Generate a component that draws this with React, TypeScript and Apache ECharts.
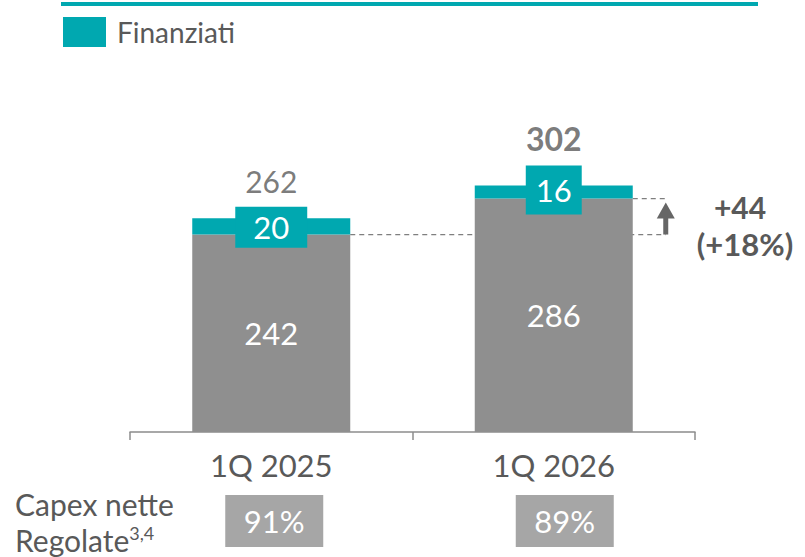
import React, { useEffect, useRef } from "react";
import * as echarts from "echarts";

const categories = ["1Q 2025", "1Q 2026"];
const baseValues = [242, 286];
const financedValues = [20, 16];
const totals = [262, 302];
const regulatedShare = ["91%", "89%"];
const bottomLabelLines = ["Capex nette", "Regolate"];
const bottomLabelSup = "3,4";

const TEAL = "#00A8B0";
const GRAY_BAR = "#8F8F8F";
const TEXT = "#595959";
const BOX_GRAY = "#A6A6A6";
const ARROW = "#666666";
const FONT = "Lato, 'Open Sans', sans-serif";
const BAR_WIDTH = 158;

export default function App() {
  const ref = useRef<HTMLDivElement>(null);

  useEffect(() => {
    if (!ref.current) return;
    const chart = echarts.init(ref.current, undefined, { renderer: "svg" });

    chart.setOption({
      animation: false,
      textStyle: { fontFamily: FONT },
      legend: {
        data: ["Finanziati"],
        left: 63,
        top: 17,
        padding: 0,
        icon: "rect",
        itemWidth: 43,
        itemHeight: 30,
        selectedMode: false,
        textStyle: { fontSize: 28, color: TEXT, fontFamily: FONT, padding: [0, 0, 0, 6] },
      },
      grid: { left: 130, right: 110, top: 105.6, bottom: 125 },
      xAxis: {
        type: "category",
        data: categories,
        axisLine: { lineStyle: { color: "#8C8C8C", width: 1.5 } },
        axisTick: { show: true, length: 8, lineStyle: { color: "#8C8C8C", width: 1.5 } },
        axisLabel: { fontSize: 31, color: TEXT, fontFamily: FONT, margin: 17 },
      },
      yAxis: { type: "value", min: 0, max: 400, show: false, splitLine: { show: false } },
      series: [
        {
          name: "Base",
          type: "bar",
          stack: "t",
          barWidth: BAR_WIDTH,
          data: baseValues,
          itemStyle: { color: GRAY_BAR },
          label: { show: true, position: "inside", color: "#fff", fontSize: 31, fontFamily: FONT },
        },
        {
          name: "Finanziati",
          type: "bar",
          stack: "t",
          barWidth: BAR_WIDTH,
          data: financedValues.map((v, i) => ({
            value: v,
            label: {
              padding: i === 0 ? [4, 18, 4, 18] : [8, 10, 8, 10],
              offset: i === 0 ? [0, 1] : [0, -2],
            },
          })),
          itemStyle: { color: TEAL },
          label: {
            show: true,
            position: "inside",
            color: "#fff",
            fontSize: 31,
            lineHeight: 33,
            fontFamily: FONT,
            backgroundColor: TEAL,
          },
        },
        {
          name: "Totale",
          type: "scatter",
          symbolSize: 1,
          itemStyle: { color: "rgba(0,0,0,0)" },
          data: totals.map((v, i) => ({
            value: v,
            label: {
              fontWeight: i === 1 ? "bold" : "normal",
              fontSize: i === 1 ? 32 : 30,
              distance: i === 1 ? 31 : 22,
            },
          })),
          label: { show: true, position: "top", color: TEXT, fontFamily: FONT },
        },
      ],
    });

    const px = (i: number, v: number) =>
      chart.convertToPixel({ xAxisIndex: 0, yAxisIndex: 0 }, [i, v]) as number[];

    const [x0, yLow] = px(0, baseValues[0]);
    const [x1, yHigh] = px(1, baseValues[1]);
    const arrowX = x1 + BAR_WIDTH / 2 + 33;
    const delta = baseValues[1] - baseValues[0];
    const pct = Math.round((delta / baseValues[0]) * 100);
    const boxCenters = [x0 + 3, x1 + 11];

    const graphics: any[] = [
      { type: "rect", shape: { x: 61, y: 2, width: 697, height: 4 }, style: { fill: TEAL } },
      {
        type: "line",
        shape: { x1: x0 + BAR_WIDTH / 2, y1: yLow, x2: arrowX, y2: yLow },
        style: { stroke: "#7F7F7F", lineWidth: 1.3, lineDash: [5, 4] },
      },
      {
        type: "line",
        shape: { x1: x1 + BAR_WIDTH / 2, y1: yHigh, x2: arrowX + 2, y2: yHigh },
        style: { stroke: "#7F7F7F", lineWidth: 1.3, lineDash: [5, 4] },
      },
      {
        type: "rect",
        shape: { x: arrowX - 2.5, y: yHigh + 18, width: 5, height: yLow - yHigh - 18 },
        style: { fill: ARROW },
      },
      {
        type: "polygon",
        shape: {
          points: [
            [arrowX, yHigh + 4],
            [arrowX + 9, yHigh + 20],
            [arrowX - 9, yHigh + 20],
          ],
        },
        style: { fill: ARROW },
      },
      {
        type: "text",
        x: 740,
        y: (yHigh + yLow) / 2 - 10,
        style: {
          text: "+" + delta,
          fontSize: 30,
          fontWeight: "bold",
          fontFamily: FONT,
          fill: TEXT,
          align: "center",
          verticalAlign: "middle",
        },
      },
      {
        type: "text",
        x: 745,
        y: (yHigh + yLow) / 2 + 27,
        style: {
          text: "(+" + pct + "%)",
          fontSize: 31,
          fontWeight: "bold",
          fontFamily: FONT,
          fill: TEXT,
          align: "center",
          verticalAlign: "middle",
        },
      },
      {
        type: "text",
        x: 15,
        y: 504,
        style: {
          text: bottomLabelLines[0],
          fontSize: 30,
          fontFamily: FONT,
          fill: TEXT,
          align: "left",
          verticalAlign: "middle",
        },
      },
      {
        type: "text",
        x: 15,
        y: 540,
        style: {
          text: "{a|" + bottomLabelLines[1] + "}{b|" + bottomLabelSup + "}",
          fontFamily: FONT,
          fill: TEXT,
          align: "left",
          verticalAlign: "middle",
          rich: {
            a: { fontSize: 30, lineHeight: 32, fontFamily: FONT, fill: TEXT },
            b: { fontSize: 18, lineHeight: 32, fontFamily: FONT, fill: TEXT, verticalAlign: "top" },
          },
        },
      },
    ];

    regulatedShare.forEach((s, i) => {
      graphics.push({
        type: "rect",
        shape: { x: boxCenters[i] - 49, y: 495, width: 98, height: 52 },
        style: { fill: BOX_GRAY },
      });
      graphics.push({
        type: "text",
        x: boxCenters[i],
        y: 521,
        style: {
          text: s,
          fontSize: 31,
          fontFamily: FONT,
          fill: "#fff",
          align: "center",
          verticalAlign: "middle",
        },
      });
    });

    chart.setOption({ graphic: graphics });

    return () => chart.dispose();
  }, []);

  return (
    <div
      ref={ref}
      style={{ position: "fixed", left: 0, top: 0, width: 805, height: 557, background: "#fff" }}
    />
  );
}
